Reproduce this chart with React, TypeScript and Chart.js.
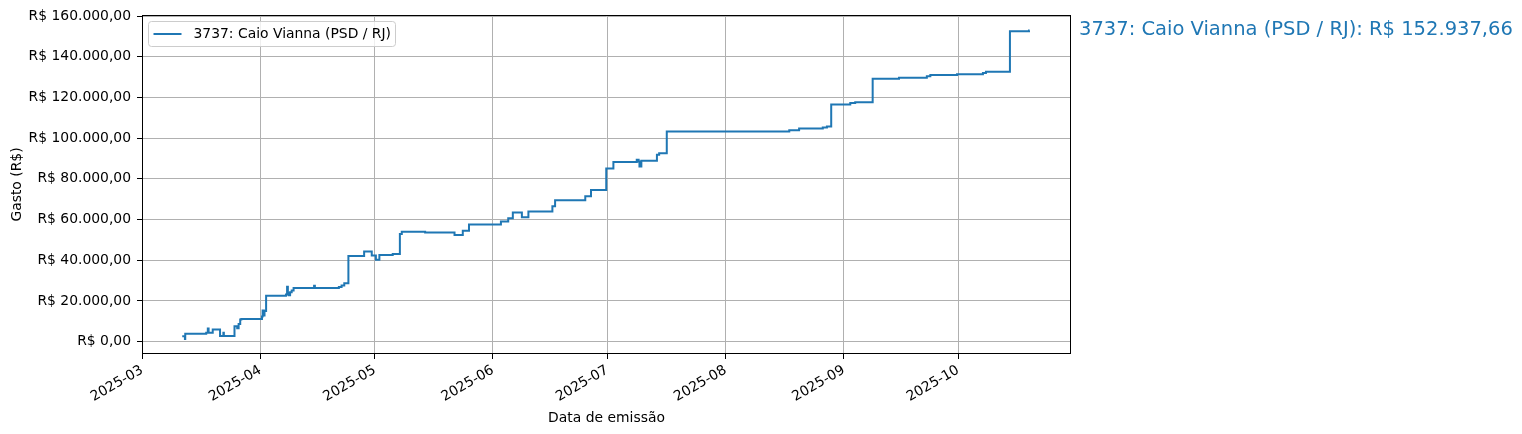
import { useEffect, useRef } from 'react';
import { Chart, registerables } from 'chart.js';

Chart.register(...registerables);

// ---- Data ----
const SERIES_LABEL = '3737: Caio Vianna (PSD / RJ)';
const TOTAL_SPENT = 152937.66;

const DATES: string[] = [
  '2025-03-11T12:00', '2025-03-12T05:00', '2025-03-12T07:00', '2025-03-17T19:00', '2025-03-18T05:00',
  '2025-03-18T10:00', '2025-03-19T12:00', '2025-03-21T10:00', '2025-03-22T07:00', '2025-03-22T10:00',
  '2025-03-25T05:00', '2025-03-25T22:00', '2025-03-26T07:00', '2025-03-26T17:00', '2025-03-27T00:00',
  '2025-04-01T10:00', '2025-04-01T14:00', '2025-04-01T22:00', '2025-04-02T02:00', '2025-04-02T12:00',
  '2025-04-07T17:00', '2025-04-08T00:00', '2025-04-08T05:00', '2025-04-08T10:00', '2025-04-08T19:00',
  '2025-04-09T05:00', '2025-04-09T17:00', '2025-04-15T02:00', '2025-04-15T07:00', '2025-04-21T14:00',
  '2025-04-22T07:00', '2025-04-23T00:00', '2025-04-24T02:00', '2025-04-28T05:00', '2025-04-30T05:00',
  '2025-05-01T07:00', '2025-05-02T05:00', '2025-05-05T17:00', '2025-05-07T14:00', '2025-05-08T02:00',
  '2025-05-14T05:00', '2025-05-21T22:00', '2025-05-24T02:00', '2025-05-25T17:00', '2025-06-03T02:00',
  '2025-06-05T00:00', '2025-06-06T05:00', '2025-06-08T14:00', '2025-06-10T07:00', '2025-06-16T14:00',
  '2025-06-17T07:00', '2025-06-25T05:00', '2025-06-26T17:00', '2025-06-30T17:00', '2025-07-02T14:00',
  '2025-07-08T17:00', '2025-07-09T05:00', '2025-07-09T10:00', '2025-07-09T22:00', '2025-07-14T00:00',
  '2025-07-14T14:00', '2025-07-16T14:00', '2025-08-17T17:00', '2025-08-20T07:00', '2025-08-26T12:00',
  '2025-08-27T14:00', '2025-08-28T17:00', '2025-09-02T17:00', '2025-09-04T00:00', '2025-09-08T14:00',
  '2025-09-15T12:00', '2025-09-22T19:00', '2025-09-23T17:00', '2025-09-30T17:00', '2025-10-07T12:00',
  '2025-10-08T07:00', '2025-10-14T14:00', '2025-10-19T14:00', '2025-10-19T18:00',
];

const VALUES: number[] = [
  2600, 1300, 3900, 4400, 6400,
  4400, 5900, 2750, 4400, 2750,
  7500, 6600, 8700, 10800, 11100,
  12300, 15300, 12800, 15000, 22500,
  23200, 27000, 24000, 22800, 24300,
  25100, 26300, 27400, 26300, 26800,
  27600, 28700, 42100, 44300, 42300,
  40200, 42600, 43100, 52900, 54000,
  53600, 52400, 54500, 57500, 59000,
  60600, 63500, 61100, 63900, 66500,
  69500, 71400, 74500, 85100, 88200,
  89400, 88500, 86100, 88900, 91800,
  92500, 103200, 103900, 104700, 105200,
  105700, 116500, 117300, 117600, 129200,
  129700, 130400, 131000, 131400, 132000,
  132650, 152500, 152937.66, 152937.66,
];

const MONTH_TICKS: string[] = [
  '2025-03-01T00:00', '2025-04-01T00:00', '2025-05-01T00:00', '2025-06-01T00:00',
  '2025-07-01T00:00', '2025-08-01T00:00', '2025-09-01T00:00', '2025-10-01T00:00',
];
const MONTH_LABELS: string[] = ['2025-03', '2025-04', '2025-05', '2025-06', '2025-07', '2025-08', '2025-09', '2025-10'];
const Y_TICKS: number[] = [0, 20000, 40000, 60000, 80000, 100000, 120000, 140000, 160000];

// ---- Helpers ----
const ORIGIN = Date.UTC(2025, 2, 1);
const toDay = (s: string) => (Date.parse(s + 'Z') - ORIGIN) / 86400000;

const formatBRL = (v: number) => {
  const [intPart, dec] = v.toFixed(2).split('.');
  const withDots = intPart.replace(/\B(?=(\d{3})+(?!\d))/g, '.');
  return `R$ ${withDots},${dec}`;
};

const BLUE = '#1f77b4';
const FONT = 'DejaVu Sans';
const FS = 13.9;

const decorPlugin = {
  id: 'decor',
  afterDraw(chart: any) {
    const { ctx, chartArea: a } = chart;
    ctx.save();
    // spines
    ctx.strokeStyle = '#000';
    ctx.lineWidth = 1;
    ctx.strokeRect(Math.round(a.left) + 0.5, Math.round(a.top) + 0.5, Math.round(a.right - a.left) - 1, Math.round(a.bottom - a.top) - 1);

    // legend
    const lx = a.left + 6.5, ly = a.top + 6.5, lw = 247, lh = 25;
    ctx.beginPath();
    (ctx as any).roundRect(lx, ly, lw, lh, 3);
    ctx.fillStyle = 'rgba(255,255,255,0.8)';
    ctx.fill();
    ctx.strokeStyle = '#cccccc';
    ctx.lineWidth = 1;
    ctx.stroke();
    ctx.beginPath();
    ctx.moveTo(lx + 5, ly + lh / 2);
    ctx.lineTo(lx + 33, ly + lh / 2);
    ctx.strokeStyle = BLUE;
    ctx.lineWidth = 2;
    ctx.stroke();
    ctx.fillStyle = '#000';
    ctx.font = `${FS}px "${FONT}"`;
    ctx.textBaseline = 'middle';
    ctx.textAlign = 'left';
    ctx.fillText(SERIES_LABEL, lx + 45, ly + lh / 2 + 0.5);

    // right annotation
    ctx.fillStyle = BLUE;
    ctx.font = `19.5px "${FONT}"`;
    ctx.textBaseline = 'alphabetic';
    ctx.fillText(`${SERIES_LABEL}: ${formatBRL(TOTAL_SPENT)}`, a.right + 8, a.top + 20);
    ctx.restore();
  },
};

export default function App() {
  const canvasRef = useRef<HTMLCanvasElement | null>(null);

  useEffect(() => {
    document.body.style.margin = '0';
    const canvas = canvasRef.current;
    if (!canvas) return;
    const points = DATES.map((d, i) => ({ x: toDay(d), y: VALUES[i] }));
    const monthDays = MONTH_TICKS.map(toDay);

    const chart = new Chart(canvas, {
      type: 'line',
      data: {
        datasets: [
          {
            label: SERIES_LABEL,
            data: points,
            borderColor: BLUE,
            backgroundColor: BLUE,
            borderWidth: 2,
            pointRadius: 0,
            stepped: 'before',
            fill: false,
            borderJoinStyle: 'miter',
          },
        ],
      },
      options: {
        responsive: false,
        animation: false,
        devicePixelRatio: 1,
        layout: { padding: { left: 0, top: 15, right: 451, bottom: 0 } },
        plugins: {
          legend: { display: false },
          tooltip: { enabled: false },
        },
        scales: {
          x: {
            type: 'linear',
            min: -0.05,
            max: 243.6,
            afterBuildTicks: (scale: any) => {
              scale.ticks = monthDays.map((v) => ({ value: v }));
            },
            afterFit: (scale: any) => {
              scale.height = 80;
            },
            ticks: {
              autoSkip: false,
              minRotation: 30,
              maxRotation: 30,
              padding: 3,
              color: '#000',
              font: { family: FONT, size: FS },
              callback: (_v: any, i: number) => MONTH_LABELS[i],
            },
            grid: {
              color: '#b0b0b0',
              lineWidth: 1,
              tickColor: '#000',
              tickLength: 5,
              drawTicks: true,
            },
            border: { display: false },
            title: {
              display: true,
              text: 'Data de emissão',
              color: '#000',
              font: { family: FONT, size: FS },
              padding: { top: 0, bottom: 7 },
            },
          },
          y: {
            type: 'linear',
            min: -6100,
            max: 160500,
            afterBuildTicks: (scale: any) => {
              scale.ticks = Y_TICKS.map((v) => ({ value: v }));
            },
            afterFit: (scale: any) => {
              scale.width = 142;
            },
            ticks: {
              padding: 6,
              color: '#000',
              font: { family: FONT, size: FS },
              callback: (v: any) => formatBRL(Number(v)),
            },
            grid: {
              color: '#b0b0b0',
              lineWidth: 1,
              tickColor: '#000',
              tickLength: 5,
            },
            border: { display: false },
            title: {
              display: true,
              text: 'Gasto (R$)',
              color: '#000',
              font: { family: FONT, size: FS },
              padding: { top: 9, bottom: 0 },
            },
          },
        },
      },
      plugins: [decorPlugin],
    } as any);

    return () => chart.destroy();
  }, []);

  return (
    <div style={{ position: 'absolute', left: 0, top: 0, width: 1522, height: 434, background: '#fff' }}>
      <canvas ref={canvasRef} width={1522} height={434} style={{ display: 'block', width: 1522, height: 434 }} />
    </div>
  );
}
